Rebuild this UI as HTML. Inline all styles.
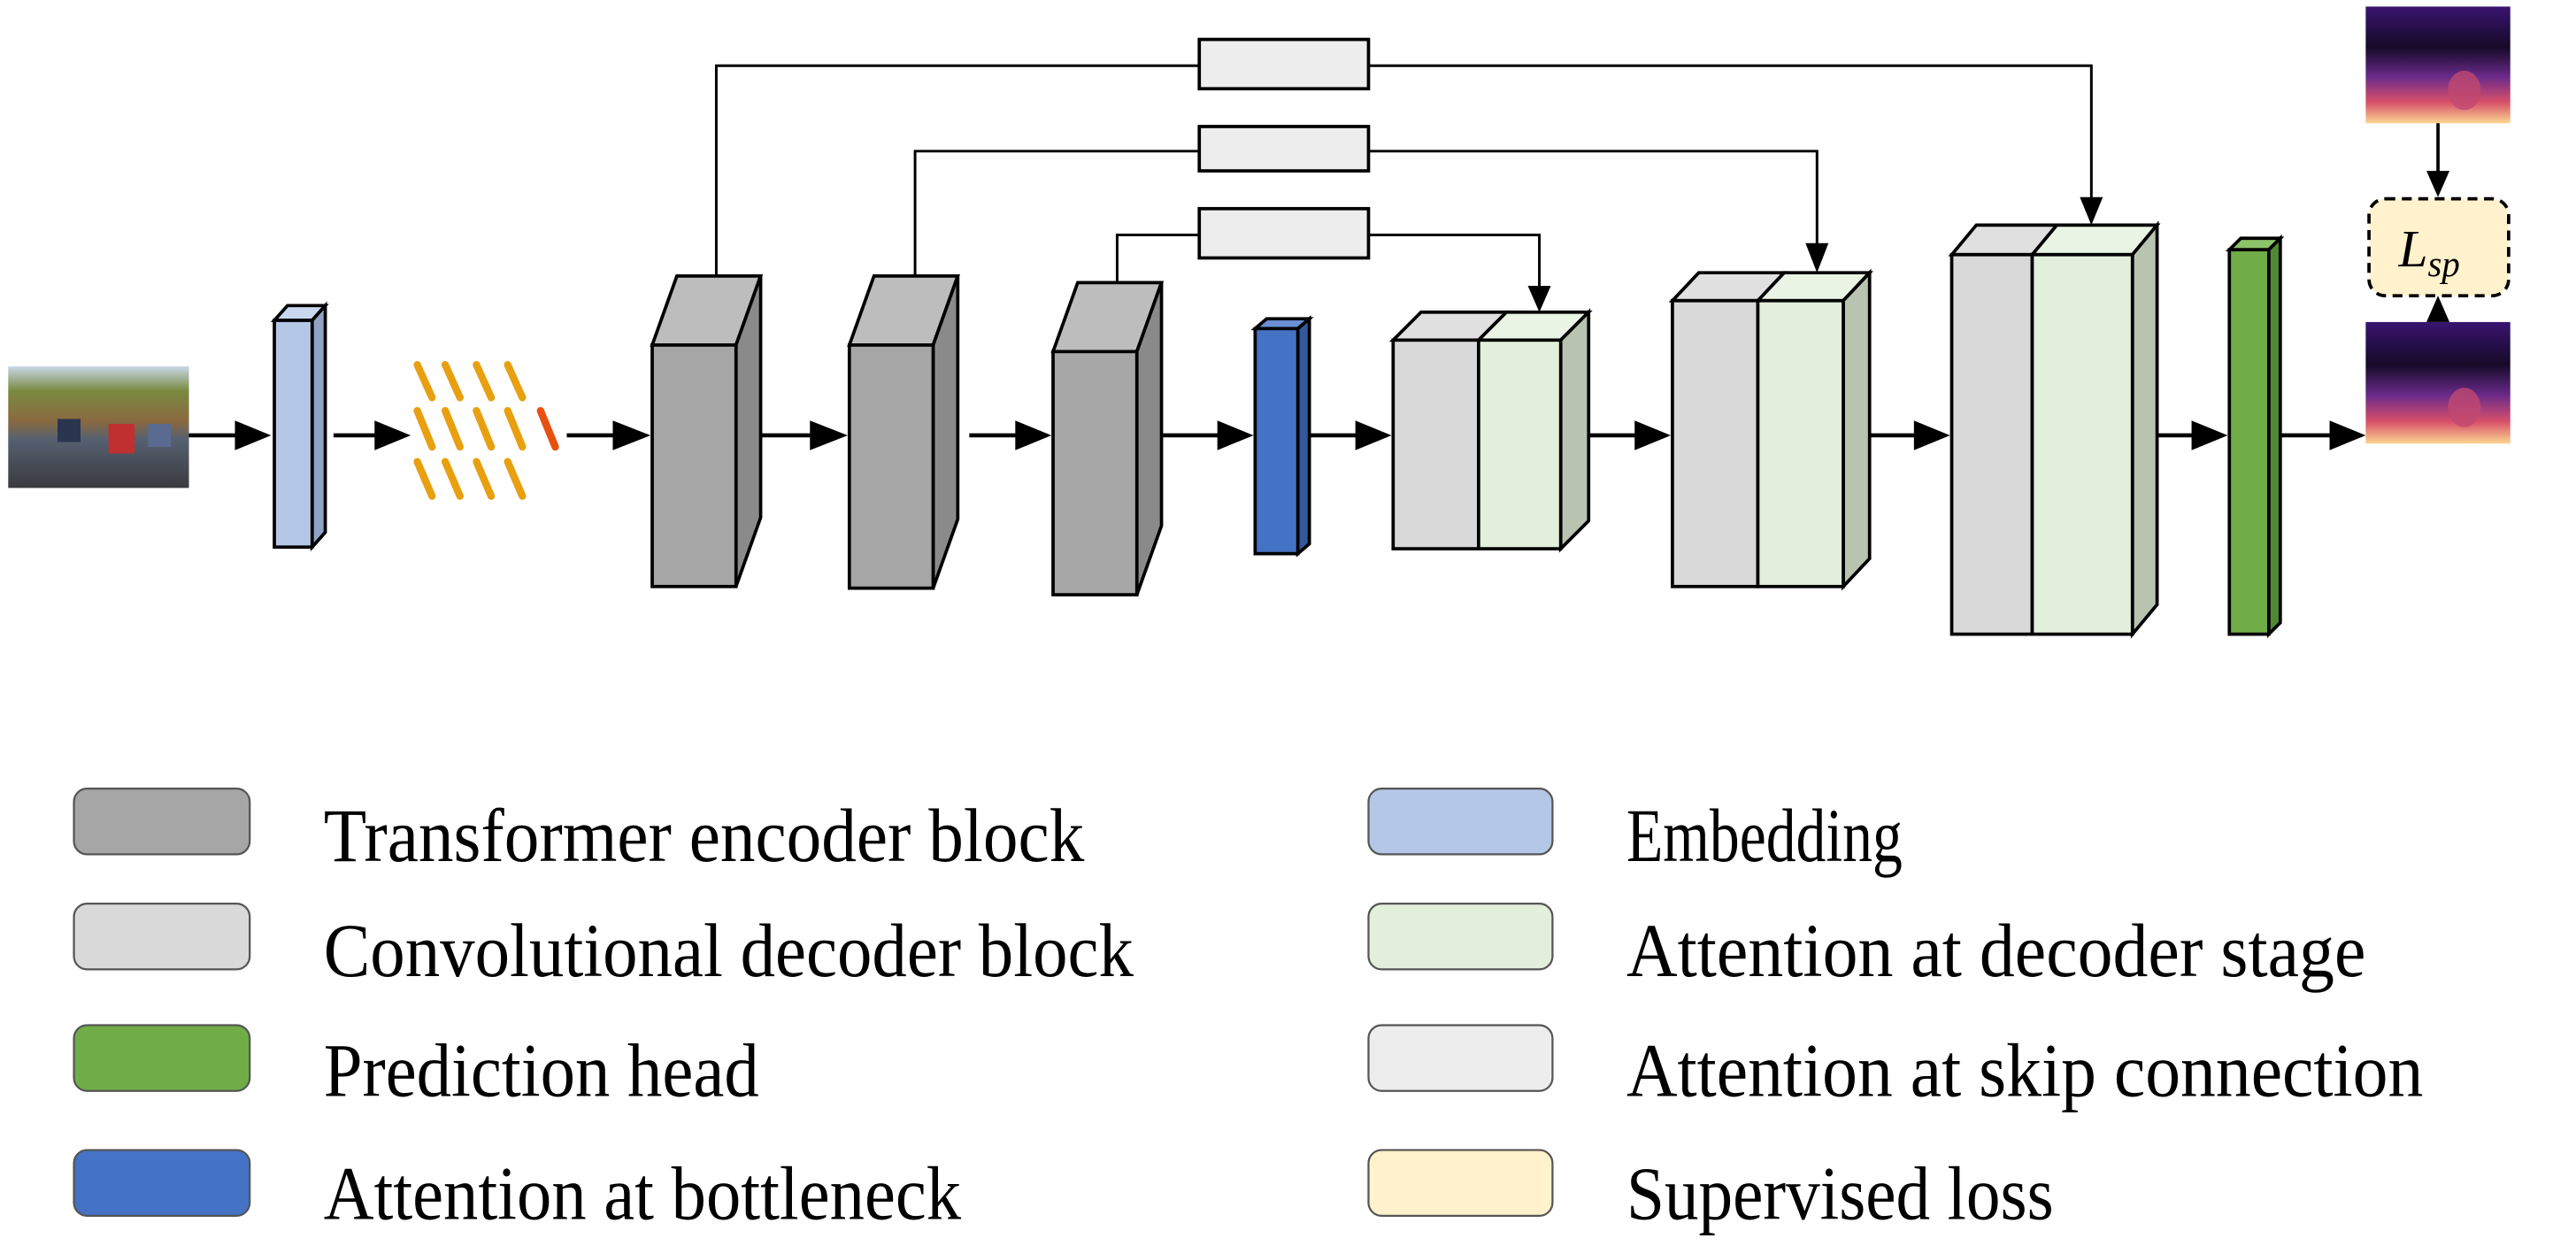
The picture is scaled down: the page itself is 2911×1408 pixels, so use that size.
<!DOCTYPE html>
<html><head><meta charset="utf-8"><style>html,body{margin:0;padding:0;background:#fff}svg{display:block}</style></head>
<body>
<svg width="2911" height="1408" viewBox="0 0 1568 758.4" xmlns="http://www.w3.org/2000/svg">
<defs>
<linearGradient id="ph" x1="0" y1="0" x2="0" y2="1">
<stop offset="0" stop-color="#c9d8e8"/><stop offset="0.2" stop-color="#7a8a40"/><stop offset="0.45" stop-color="#8a6a40"/><stop offset="0.6" stop-color="#556070"/><stop offset="1" stop-color="#3a3a3e"/></linearGradient>
<linearGradient id="dp" x1="0" y1="0" x2="0" y2="1">
<stop offset="0" stop-color="#3a1470"/><stop offset="0.35" stop-color="#150a28"/><stop offset="0.6" stop-color="#6a2a8a"/><stop offset="0.82" stop-color="#d8506a"/><stop offset="1" stop-color="#fcd590"/></linearGradient>
</defs>
<g stroke="#000" stroke-width="2" stroke-linejoin="miter">
<rect x="5" y="223" width="110" height="74" fill="url(#ph)" stroke="none"/>
<rect x="35" y="255" width="14" height="14" fill="#2a3550" stroke="none"/>
<rect x="66" y="258" width="16" height="18" fill="#c03030" stroke="none"/>
<rect x="90" y="258" width="14" height="14" fill="#5a6a90" stroke="none"/>

<polygon points="167,195 175,186 198,186 190,195" fill="#c9d7ef"/>
<polygon points="190,195 198,186 198,324 190,333" fill="#8fa3c4"/>
<rect x="167" y="195" width="23" height="138" fill="#b4c7e7"/>

<g stroke="#e8a010" stroke-width="4.5" stroke-linecap="round">
<line x1="254" y1="222" x2="263" y2="242"/><line x1="271" y1="222" x2="280" y2="242"/><line x1="290" y1="222" x2="299" y2="242"/><line x1="309" y1="222" x2="318" y2="242"/>
<line x1="254" y1="250" x2="263" y2="272"/><line x1="271" y1="250" x2="280" y2="272"/><line x1="290" y1="250" x2="299" y2="272"/><line x1="309" y1="250" x2="318" y2="272"/>
<line x1="329" y1="250" x2="338" y2="272" stroke="#e85010"/>
<line x1="254" y1="281" x2="263" y2="302"/><line x1="271" y1="281" x2="280" y2="302"/><line x1="290" y1="281" x2="299" y2="302"/><line x1="309" y1="281" x2="318" y2="302"/>
</g>

<polygon points="397,210 412,168 463,168 448,210" fill="#bdbdbd"/>
<polygon points="448,210 463,168 463,315 448,357" fill="#8a8a8a"/>
<rect x="397" y="210" width="51" height="147" fill="#a6a6a6"/>
<polygon points="517,210 532,168 583,168 568,210" fill="#bdbdbd"/>
<polygon points="568,210 583,168 583,316 568,358" fill="#8a8a8a"/>
<rect x="517" y="210" width="51" height="148" fill="#a6a6a6"/>
<polygon points="641,214 656,172 707,172 692,214" fill="#bdbdbd"/>
<polygon points="692,214 707,172 707,320 692,362" fill="#8a8a8a"/>
<rect x="641" y="214" width="51" height="148" fill="#a6a6a6"/>

<polygon points="764,200 771,194 797,194 790,200" fill="#6a8fd4"/>
<polygon points="790,200 797,194 797,331 790,337" fill="#34589c"/>
<rect x="764" y="200" width="26" height="137" fill="#4472c4"/>

<polygon points="848,207 865,190 917,190 900,207" fill="#e0e0e0"/>
<polygon points="900,207 917,190 967,190 950,207" fill="#eaf4e4"/>
<polygon points="950,207 967,190 967,317 950,334" fill="#b8c4b0"/>
<rect x="848" y="207" width="52" height="127" fill="#d9d9d9"/>
<rect x="900" y="207" width="50" height="127" fill="#e2efda"/>
<polygon points="1018,183 1034,166 1086,166 1070,183" fill="#e0e0e0"/>
<polygon points="1070,183 1086,166 1138,166 1122,183" fill="#eaf4e4"/>
<polygon points="1122,183 1138,166 1138,340 1122,357" fill="#b8c4b0"/>
<rect x="1018" y="183" width="52" height="174" fill="#d9d9d9"/>
<rect x="1070" y="183" width="52" height="174" fill="#e2efda"/>
<polygon points="1188,155 1203,137 1252,137 1237,155" fill="#e0e0e0"/>
<polygon points="1237,155 1252,137 1313,137 1298,155" fill="#eaf4e4"/>
<polygon points="1298,155 1313,137 1313,368 1298,386" fill="#b8c4b0"/>
<rect x="1188" y="155" width="49" height="231" fill="#d9d9d9"/>
<rect x="1237" y="155" width="61" height="231" fill="#e2efda"/>

<polygon points="1357,152 1364,145 1388,145 1381,152" fill="#8cc46a"/>
<polygon points="1381,152 1388,145 1388,379 1381,386" fill="#4f8a30"/>
<rect x="1357" y="152" width="24" height="234" fill="#70ad47"/>

<g fill="none" stroke-width="1.6">
<polyline points="436,167 436,40 730,40"/><polyline points="833,40 1273,40 1273,122"/>
<polyline points="557,168 557,92 730,92"/><polyline points="833,92 1106,92 1106,150"/>
<polyline points="680,172 680,143 730,143"/><polyline points="833,143 937,143 937,176"/>
</g>
<rect x="730" y="24" width="103" height="30" fill="#ededed"/>
<rect x="730" y="77" width="103" height="27" fill="#ededed"/>
<rect x="730" y="127" width="103" height="30" fill="#ededed"/>
</g>
<g fill="#000">
<polygon points="1266,120 1280,120 1273,137"/>
<polygon points="1099,148 1113,148 1106,166"/>
<polygon points="930,174 944,174 937,190"/>
</g>

<g stroke="#000" stroke-width="2.5">
<line x1="115" y1="265" x2="150" y2="265"/><line x1="203" y1="265" x2="235" y2="265"/><line x1="345" y1="265" x2="380" y2="265"/>
<line x1="463" y1="265" x2="500" y2="265"/><line x1="590" y1="265" x2="625" y2="265"/><line x1="708" y1="265" x2="748" y2="265"/>
<line x1="797" y1="265" x2="832" y2="265"/><line x1="967" y1="265" x2="1002" y2="265"/><line x1="1138" y1="265" x2="1172" y2="265"/>
<line x1="1313" y1="265" x2="1341" y2="265"/><line x1="1388" y1="265" x2="1425" y2="265"/>
</g>
<g fill="#000">
<polygon points="143,256 143,274 165,265"/><polygon points="228,256 228,274 250,265"/><polygon points="373,256 373,274 396,265"/>
<polygon points="493,256 493,274 516,265"/><polygon points="618,256 618,274 640,265"/><polygon points="741,256 741,274 763,265"/>
<polygon points="825,256 825,274 847,265"/><polygon points="995,256 995,274 1017,265"/><polygon points="1165,256 1165,274 1187,265"/>
<polygon points="1334,256 1334,274 1356,265"/><polygon points="1418,256 1418,274 1440,265"/>
</g>

<rect x="1440" y="4" width="88" height="71" fill="url(#dp)"/>
<ellipse cx="1500" cy="55" rx="10" ry="12" fill="#c04870" opacity="0.8"/>
<rect x="1440" y="196" width="88" height="74" fill="url(#dp)"/>
<ellipse cx="1500" cy="248" rx="10" ry="12" fill="#c04870" opacity="0.8"/>
<line x1="1484" y1="75" x2="1484" y2="108" stroke="#000" stroke-width="2"/>
<polygon points="1477,104 1491,104 1484,120" fill="#000"/>
<polygon points="1477,196 1491,196 1484,180" fill="#000"/>
<rect x="1442" y="121" width="85" height="59" rx="10" fill="#fff2cc" stroke="#000" stroke-width="2" stroke-dasharray="6,4"/>
<text x="1460" y="162" font-family="Liberation Serif, serif" font-style="italic" font-size="32">L<tspan font-size="22" dy="6">sp</tspan></text>

<g stroke="#555" stroke-width="1.2">
<rect x="45" y="480" width="107" height="40" rx="8" fill="#a6a6a6"/>
<rect x="45" y="550" width="107" height="40" rx="8" fill="#d9d9d9"/>
<rect x="45" y="624" width="107" height="40" rx="8" fill="#70ad47"/>
<rect x="45" y="700" width="107" height="40" rx="8" fill="#4472c4"/>
<rect x="833" y="480" width="112" height="40" rx="8" fill="#b4c7e7"/>
<rect x="833" y="550" width="112" height="40" rx="8" fill="#e2efda"/>
<rect x="833" y="624" width="112" height="40" rx="8" fill="#ededed"/>
<rect x="833" y="700" width="112" height="40" rx="8" fill="#fff2cc"/>
</g>
<g font-family="Liberation Serif, serif" font-size="46" fill="#000">
<text x="197" y="524" textLength="463" lengthAdjust="spacingAndGlyphs">Transformer encoder block</text>
<text x="197" y="594" textLength="493" lengthAdjust="spacingAndGlyphs">Convolutional decoder block</text>
<text x="197" y="667" textLength="265" lengthAdjust="spacingAndGlyphs">Prediction head</text>
<text x="197" y="742" textLength="388" lengthAdjust="spacingAndGlyphs">Attention at bottleneck</text>
<text x="990" y="524" textLength="168" lengthAdjust="spacingAndGlyphs">Embedding</text>
<text x="990" y="594" textLength="450" lengthAdjust="spacingAndGlyphs">Attention at decoder stage</text>
<text x="990" y="667" textLength="485" lengthAdjust="spacingAndGlyphs">Attention at skip connection</text>
<text x="990" y="742" textLength="260" lengthAdjust="spacingAndGlyphs">Supervised loss</text>
</g>
</svg>
</body></html>
